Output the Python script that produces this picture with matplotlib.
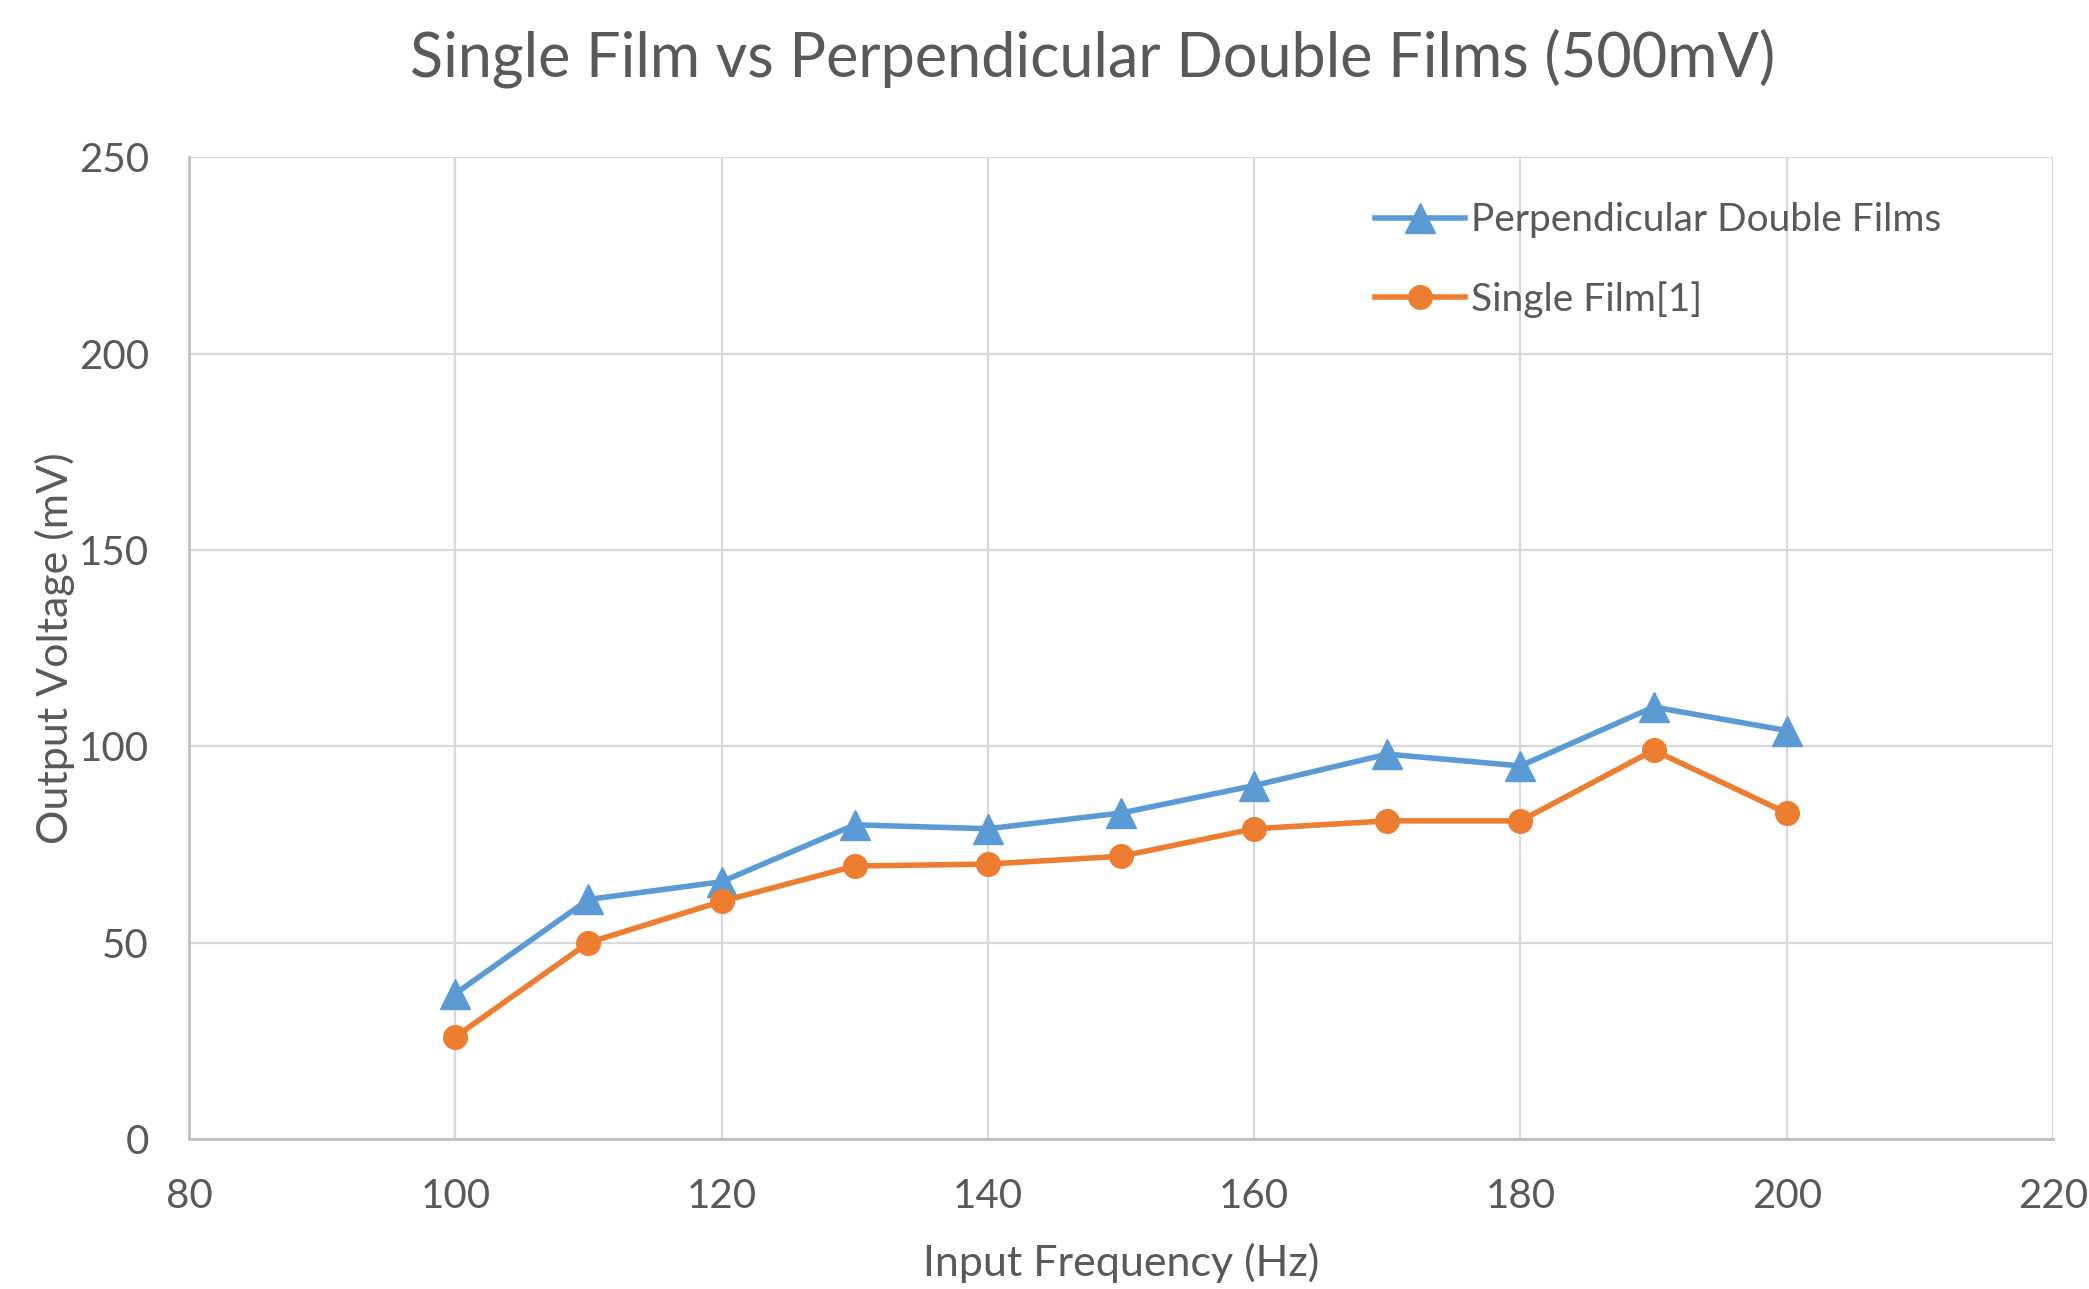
import numpy as np
import matplotlib.pyplot as plt

# input frequency (Hz) and measured output voltage (mV)
freq = [100, 110, 120, 130, 140, 150, 160, 170, 180, 190, 200]
double_films = [37, 61, 65.5, 80, 79, 83, 90, 98, 95, 110, 104]
single_film = [26, 50, 60.5, 69.5, 70, 72, 79, 81, 81, 99, 83]

x_ticks = [80, 100, 120, 140, 160, 180, 200, 220]
y_ticks = [0, 50, 100, 150, 200, 250]

blue = '#5B9BD5'
orange = '#ED7D31'
text_grey = '#595959'

plt.rcParams['font.family'] = ['Lato', 'DejaVu Sans']

fig = plt.figure(figsize=(20.89, 12.89), dpi=100)
ax = fig.add_axes([0.0905, 0.1164, 0.8923, 0.7616])

ax.plot(freq, double_films, color=blue, lw=4, marker='^', ms=22,
        label='Perpendicular Double Films', zorder=3)
ax.plot(freq, single_film, color=orange, lw=4, marker='o', ms=17,
        label='Single Film[1]', zorder=3)

ax.set_xlim(80, 220)
ax.set_ylim(0, 250)
ax.set_xticks(x_ticks)
ax.set_yticks(y_ticks)
ax.grid(True, color='#D9D9D9', lw=1.6)
ax.set_axisbelow(True)
for s in ['top', 'right']:
    ax.spines[s].set_visible(False)
for s in ['left', 'bottom']:
    ax.spines[s].set_color('#BFBFBF')
    ax.spines[s].set_linewidth(2)
ax.tick_params(length=0, labelsize=29, labelcolor=text_grey, pad=28)
ax.tick_params(axis='y', pad=29)

ax.set_xlabel('Input Frequency (Hz)', fontsize=31, color=text_grey, va='center')
ax.set_ylabel('Output Voltage (mV)', fontsize=31, color=text_grey, va='center')
ax.xaxis.set_label_coords(0.5, -0.126)
ax.yaxis.set_label_coords(-0.072, 0.5)

fig.text(0.523, 0.955, 'Single Film vs Perpendicular Double Films (500mV)',
         ha='center', va='center', fontsize=44, color=text_grey)

ax.legend(loc='upper left', bbox_to_anchor=(0.626, 0.974), frameon=False,
          borderpad=0, fontsize=28, labelcolor=text_grey, handlelength=2.3,
          handletextpad=0.15, labelspacing=1.1)

fig.savefig('out.png', dpi=100)
